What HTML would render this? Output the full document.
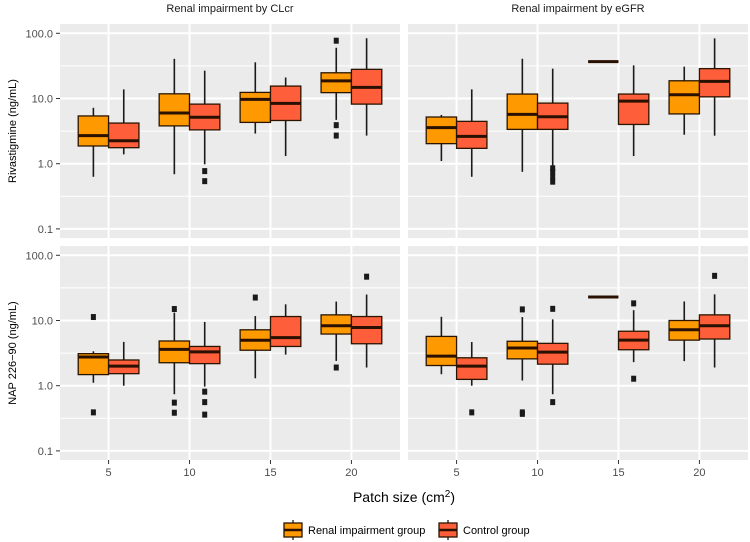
<!DOCTYPE html>
<html><head><meta charset="utf-8"><style>
body{margin:0;background:#fff;}
svg{display:block;font-family:"Liberation Sans",sans-serif;}
</style></head><body>
<svg id="c" width="750" height="542"></svg>
<script>
const categories=[5,10,15,20];
const groups=["Renal impairment group","Control group"];
const panelTitles=["Renal impairment by CLcr","Renal impairment by eGFR"];
const rowTitles=["Rivastigmine (ng/mL)","NAP 226\u221290 (ng/mL)"];
const yTicks=[0.1,1,10,100];
const yTickLabels=["0.1","1.0","10.0","100.0"];
// each stat: [low, q1, median, q3, high]
const rivaCLcrRenal=[[0.63,1.87,2.7,5.4,7.2],[0.69,3.8,6.0,11.8,40.6],[2.9,4.3,9.7,12.4,35.9],[4.7,12.3,18.6,24.8,60]];
const rivaCLcrControl=[[1.39,1.76,2.25,4.2,13.8],[0.98,3.3,5.15,8.2,26.7],[1.31,4.6,8.4,15.5,21],[2.7,8.2,14.8,28,84]];
const rivaEgfrRenal=[[1.1,2.03,3.57,5.2,5.6],[0.75,3.36,5.7,11.7,40.7],[36.7,36.7,36.7,36.7,36.7],[2.78,5.8,11.4,18.7,30.8]];
const rivaEgfrControl=[[0.63,1.72,2.63,4.46,13.8],[0.94,3.36,5.26,8.5,28.7],[1.31,4.0,9.1,11.7,32.2],[2.69,10.6,18.3,28.7,83.7]];
const napCLcrRenal=[[1.11,1.48,2.75,3.1,3.37],[0.74,2.25,3.6,4.85,13.2],[1.3,3.5,4.97,7.2,11.7],[2.4,6.2,8.3,12.2,19.5]];
const napCLcrControl=[[1.0,1.53,2.0,2.48,4.7],[0.97,2.18,3.3,4.0,9.5],[3.0,4.0,5.46,11.5,17.7],[1.9,4.4,7.8,11.5,25]];
const napEgfrRenal=[[1.5,2.04,2.84,5.7,11.4],[1.2,2.58,3.78,4.8,11.3],[22.9,22.9,22.9,22.9,22.9],[2.38,5.0,7.2,10,19.6]];
const napEgfrControl=[[1.0,1.25,2.0,2.68,4.68],[0.74,2.14,3.27,4.46,10.4],[2.3,3.56,5.0,6.84,14.4],[1.9,5.2,8.3,12.2,25.2]];
const rivaCLcrRenalOut=[[],[],[],[77,3.9,2.7]];
const rivaCLcrControlOut=[[],[0.77,0.54],[],[]];
const rivaEgfrRenalOut=[[],[],[],[]];
const rivaEgfrControlOut=[[],[0.85,0.75,0.62,0.53],[],[]];
const napCLcrRenalOut=[[11.3,0.39],[15,0.55,0.385],[22.5],[1.9]];
const napCLcrControlOut=[[],[0.81,0.56,0.36],[],[47]];
const napEgfrRenalOut=[[],[14.8,0.37,0.39],[],[]];
const napEgfrControlOut=[[0.39],[15.1,0.56],[18.3,1.28],[48.4]];

const NS="http://www.w3.org/2000/svg";
const svg=document.getElementById('c');
function mk(t,a,p){const e=document.createElementNS(NS,t);for(const k in a)e.setAttribute(k,a[k]);(p||svg).appendChild(e);return e;}
const cols=[{x0:60,x1:400},{x0:408,x1:748}];
const rows=[{y0:24,y1:238,one:163.7},{y0:246,y1:460,one:385.7}];
const DEC=65.2;
function yScale(r,v){return rows[r].one-DEC*Math.log10(v);}
function xScale(c,i){const w=(cols[c].x1-cols[c].x0)/4.2;return cols[c].x0+w*(0.6+i);}
const fills=["#FF9900","#FF5E3A"];
const panelData=[[[rivaCLcrRenal,rivaCLcrControl],[rivaEgfrRenal,rivaEgfrControl]],[[napCLcrRenal,napCLcrControl],[napEgfrRenal,napEgfrControl]]];
const panelOut=[[[rivaCLcrRenalOut,rivaCLcrControlOut],[rivaEgfrRenalOut,rivaEgfrControlOut]],[[napCLcrRenalOut,napCLcrControlOut],[napEgfrRenalOut,napEgfrControlOut]]];

for(let r=0;r<2;r++)for(let c=0;c<2;c++){
  const g=mk('g',{});
  
  
  const X0=cols[c].x0,X1=cols[c].x1,Y0=rows[r].y0,Y1=rows[r].y1;
  mk('rect',{x:X0,y:Y0,width:X1-X0,height:Y1-Y0,fill:'#EBEBEB'},g);
  for(let k=0;k<yTicks.length-1;k++){const ym=yScale(r,yTicks[k]*Math.sqrt(10));mk('line',{x1:X0,x2:X1,y1:ym,y2:ym,stroke:'#fff','stroke-width':1},g);}
  yTicks.forEach(v=>{const y=yScale(r,v);mk('line',{x1:X0,x2:X1,y1:y,y2:y,stroke:'#fff','stroke-width':2},g);});
  categories.forEach((cat,i)=>{const x=xScale(c,i);mk('line',{x1:x,x2:x,y1:Y0,y2:Y1,stroke:'#fff','stroke-width':2},g);});
  const unit=(X1-X0)/4.2,bw=unit*0.375;
  for(let s=0;s<2;s++){
    panelData[r][c][s].forEach((st,i)=>{
      const cx=xScale(c,i)+(s===0?-bw/2:bw/2);
      const bg=mk('g',{},g);
      
      
      const [lo,q1,md,q3,hi]=st.map(v=>yScale(r,v));
      mk('line',{x1:cx,x2:cx,y1:hi,y2:q3,stroke:'#1a1a1a','stroke-width':1.6},bg);
      mk('line',{x1:cx,x2:cx,y1:q1,y2:lo,stroke:'#1a1a1a','stroke-width':1.6},bg);
      mk('rect',{x:cx-bw/2,y:q3,width:bw,height:Math.max(q1-q3,0),fill:fills[s],stroke:'#2a1500','stroke-width':1.3},bg);
      mk('line',{x1:cx-bw/2,x2:cx+bw/2,y1:md,y2:md,stroke:'#2a1000','stroke-width':3},bg);
      panelOut[r][c][s][i].forEach(v=>{const oy=yScale(r,v);const o=mk('rect',{x:cx-2.5,y:oy-3,width:5,height:6,fill:'#1a1a1a'},bg);
        
        });
    });
  }
  if(c===0){yTicks.forEach((v,k)=>{const y=yScale(r,v);mk('line',{x1:56,x2:60,y1:y,y2:y,stroke:'#333','stroke-width':1},g);
    const t=mk('text',{x:53,y:y+4,'text-anchor':'end','font-size':11,fill:'#4d4d4d'},g);t.textContent=yTickLabels[k];});
    const yc=(Y0+Y1)/2;const t=mk('text',{x:16,y:yc,'text-anchor':'middle','font-size':11,fill:'#000',transform:'rotate(-90 16 '+yc+')'},g);
    t.textContent=rowTitles[r];}
  if(r===0){const t=mk('text',{x:(X0+X1)/2,y:12,'text-anchor':'middle','font-size':11,fill:'#1a1a1a'},g);
    t.textContent=panelTitles[c];}
  if(r===1){categories.forEach((cat,i)=>{const x=xScale(c,i);mk('line',{x1:x,x2:x,y1:460,y2:464,stroke:'#333','stroke-width':1},g);
    const t=mk('text',{x:x,y:476,'text-anchor':'middle','font-size':11,fill:'#4d4d4d'},g);t.textContent=cat;});}
}
const xt=mk('text',{x:404,y:502,'text-anchor':'middle','font-size':14,fill:'#000'});

xt.innerHTML='Patch size (cm<tspan dy="-5" font-size="10">2</tspan><tspan dy="5">)</tspan>';
const legX=[283,438];
groups.forEach((gname,s)=>{
  const lg=mk('g',{});
  
  
  const x=legX[s],cx=x+10;
  mk('line',{x1:cx,x2:cx,y1:520,y2:540,stroke:'#1a1a1a','stroke-width':1.3},lg);
  mk('rect',{x:x+1,y:523,width:18,height:14,fill:fills[s],stroke:'#2a1500','stroke-width':1.3},lg);
  mk('line',{x1:x+1,x2:x+19,y1:530,y2:530,stroke:'#2a1000','stroke-width':2.5},lg);
  const t=mk('text',{x:x+25,y:534,'font-size':11,fill:'#000'},lg);t.textContent=gname;
});
</script>
</body></html>
